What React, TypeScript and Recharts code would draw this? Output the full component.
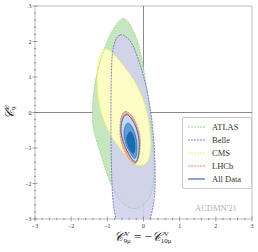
import React from "react";
import {
    ScatterChart,
    Scatter,
    XAxis,
    YAxis,
    ReferenceLine,
    ReferenceArea,
    Legend,
} from "recharts";

type Pt = { x: number; y: number };

// contour boundary points (C9 = -C10, C9U)
const atlas: Pt[] = [
    { x: -0.56, y: 2.65 }, { x: -0.29, y: 2.32 }, { x: -0.1, y: 1.76 },
    { x: 0.04, y: 1.0 }, { x: 0.16, y: 0.16 }, { x: 0.25, y: -0.78 },
    { x: 0.29, y: -1.72 }, { x: 0.17, y: -2.38 }, { x: -0.19, y: -2.7 },
    { x: -0.56, y: -2.56 }, { x: -0.88, y: -2.05 }, { x: -1.16, y: -1.25 },
    { x: -1.37, y: -0.5 }, { x: -1.41, y: 0.07 }, { x: -1.34, y: 0.82 },
    { x: -1.16, y: 1.57 }, { x: -0.88, y: 2.27 },
];
const belle: Pt[] = [
    { x: -0.65, y: 2.18 }, { x: -0.5, y: 2.14 }, { x: -0.3, y: 1.9 },
    { x: -0.05, y: 1.2 }, { x: 0.15, y: 0.35 }, { x: 0.27, y: -0.6 },
    { x: 0.32, y: -1.55 }, { x: 0.3, y: -2.4 }, { x: 0.16, y: -3.05 },
    { x: -0.1, y: -3.45 }, { x: -0.5, y: -3.45 }, { x: -0.74, y: -3.05 },
    { x: -0.85, y: -2.4 }, { x: -0.89, y: -1.3 }, { x: -0.9, y: -0.1 },
    { x: -0.89, y: 1.0 }, { x: -0.86, y: 1.65 }, { x: -0.78, y: 2.02 },
];
const cms: Pt[] = [
    { x: -1.1, y: 1.77 }, { x: -0.9, y: 1.71 }, { x: -0.56, y: 1.33 },
    { x: -0.19, y: 0.77 }, { x: 0.08, y: 0.07 }, { x: 0.19, y: -0.69 },
    { x: 0.16, y: -1.25 }, { x: -0.01, y: -1.48 }, { x: -0.29, y: -1.42 },
    { x: -0.65, y: -1.01 }, { x: -0.98, y: -0.5 }, { x: -1.21, y: 0.16 },
    { x: -1.28, y: 0.82 }, { x: -1.25, y: 1.43 },
];
const lhcb: Pt[] = [
    { x: -0.51, y: 0.03 }, { x: -0.4, y: -0.02 }, { x: -0.28, y: -0.15 },
    { x: -0.15, y: -0.45 }, { x: -0.09, y: -0.8 }, { x: -0.12, y: -1.2 },
    { x: -0.2, y: -1.42 }, { x: -0.32, y: -1.4 }, { x: -0.5, y: -1.15 },
    { x: -0.63, y: -0.75 }, { x: -0.65, y: -0.35 }, { x: -0.6, y: -0.08 },
];
const all3: Pt[] = [
    { x: -0.48, y: -0.06 }, { x: -0.36, y: -0.14 }, { x: -0.22, y: -0.38 },
    { x: -0.13, y: -0.72 }, { x: -0.12, y: -1.05 }, { x: -0.17, y: -1.33 },
    { x: -0.25, y: -1.39 }, { x: -0.38, y: -1.22 }, { x: -0.53, y: -0.9 },
    { x: -0.62, y: -0.55 }, { x: -0.59, y: -0.22 },
];
const all2: Pt[] = [
    { x: -0.42, y: -0.3 }, { x: -0.32, y: -0.4 }, { x: -0.22, y: -0.65 },
    { x: -0.18, y: -0.95 }, { x: -0.2, y: -1.22 }, { x: -0.26, y: -1.29 },
    { x: -0.36, y: -1.15 }, { x: -0.48, y: -0.9 }, { x: -0.54, y: -0.62 },
    { x: -0.5, y: -0.38 },
];
const all1: Pt[] = [
    { x: -0.37, y: -0.54 }, { x: -0.29, y: -0.64 }, { x: -0.24, y: -0.85 },
    { x: -0.24, y: -1.06 }, { x: -0.28, y: -1.15 }, { x: -0.36, y: -1.07 },
    { x: -0.44, y: -0.88 }, { x: -0.46, y: -0.68 },
];

const majorTicks = [-3, -2, -1, 0, 1, 2, 3];
const allTicks = [
    -3, -2.8, -2.6, -2.4, -2.2, -2, -1.8, -1.6, -1.4, -1.2, -1, -0.8, -0.6, -0.4, -0.2,
    0, 0.2, 0.4, 0.6, 0.8, 1, 1.2, 1.4, 1.6, 1.8, 2, 2.2, 2.4, 2.6, 2.8, 3,
];

const legendItems = [
    { name: "ATLAS", color: "#8fd48a", dash: "2 1" },
    { name: "Belle", color: "#6f63c0", dash: "2 1" },
    { name: "CMS", color: "#f2f23a", dash: "2 1" },
    { name: "LHCb", color: "#f07a5e", dash: "2 1" },
    { name: "All Data", color: "#3d6fb6", dash: "" },
];

const FONT = '"Liberation Serif", "DejaVu Serif", serif';

// closed catmull-rom curve for smooth contours
const closedSmooth = (context: any) => {
    let pts: [number, number][] = [];
    return {
        areaStart() {},
        areaEnd() {},
        lineStart() {
            pts = [];
        },
        point(x: number, y: number) {
            pts.push([x, y]);
        },
        lineEnd() {
            const n = pts.length;
            if (!n) return;
            context.moveTo(pts[0][0], pts[0][1]);
            for (let i = 0; i < n; i++) {
                const p0 = pts[(i - 1 + n) % n];
                const p1 = pts[i];
                const p2 = pts[(i + 1) % n];
                const p3 = pts[(i + 2) % n];
                context.bezierCurveTo(
                    p1[0] + (p2[0] - p0[0]) / 6,
                    p1[1] + (p2[1] - p0[1]) / 6,
                    p2[0] - (p3[0] - p1[0]) / 6,
                    p2[1] - (p3[1] - p1[1]) / 6,
                    p2[0],
                    p2[1]
                );
            }
            context.closePath();
        },
    };
};

const noDot = () => <g />;

const fmt = (v: number) => (v < 0 ? `\u2212${Math.abs(v)}` : `${v}`);

const XTick = ({ x, y, payload }: any) => {
    const major = majorTicks.includes(payload.value);
    const h = major ? 2.5 : 1.2;
    return (
        <g>
            <line x1={x} x2={x} y1={y - h} y2={y + h} stroke="#666" strokeWidth={0.6} />
            {major && (
                <text x={x} y={y + 8.5} textAnchor="middle" fontSize={6} fill="#333" fontFamily={FONT}>
                    {fmt(payload.value)}
                </text>
            )}
        </g>
    );
};

const YTick = ({ x, y, payload }: any) => {
    const major = majorTicks.includes(payload.value);
    const h = major ? 2.5 : 1.2;
    return (
        <g>
            <line x1={x - h} x2={x + h} y1={y} y2={y} stroke="#666" strokeWidth={0.6} />
            {major && (
                <text x={x - 3.5} y={y + 2} textAnchor="end" fontSize={6} fill="#333" fontFamily={FONT}>
                    {fmt(payload.value)}
                </text>
            )}
        </g>
    );
};

const LegendBox = () => (
    <div
        style={{
            border: "1px solid #c8c8c8",
            borderRadius: 2,
            background: "#fff",
            padding: "2px 0 2px 5px",
            fontFamily: FONT,
            fontSize: 8.5,
            fontWeight: 400,
            color: "#333",
            width: 70,
            boxSizing: "border-box",
        }}
    >
        {legendItems.map((it) => (
            <div key={it.name} style={{ display: "flex", alignItems: "center", height: 13.2 }}>
                <svg width={17} height={4} style={{ marginRight: 7 }}>
                    <line
                        x1={0}
                        x2={17}
                        y1={2}
                        y2={2}
                        stroke={it.color}
                        strokeWidth={it.dash ? 0.9 : 1.2}
                        strokeDasharray={it.dash || undefined}
                    />
                </svg>
                <span style={{ color: "#333" }}>{it.name}</span>
            </div>
        ))}
    </div>
);

const SubSup = ({ sup, sub }: { sup: string; sub: string }) => (
    <span
        style={{
            display: "inline-flex",
            flexDirection: "column",
            fontSize: 7,
            lineHeight: "7px",
            verticalAlign: "middle",
            fontStyle: "normal",
        }}
    >
        <span>{sup}</span>
        <span>{sub}</span>
    </span>
);

export default function App() {
    return (
        <div style={{ position: "absolute", left: 0, top: 0, width: 258, height: 252, background: "#fff" }}>
            <ScatterChart width={258} height={252} margin={{ top: 6, right: 6, left: 0, bottom: 0 }}>
                <XAxis
                    type="number"
                    dataKey="x"
                    domain={[-3, 3]}
                    allowDataOverflow
                    ticks={allTicks}
                    interval={0}
                    tick={<XTick />}
                    tickSize={0}
                    tickMargin={0}
                    tickLine={false}
                    axisLine={false}
                    height={33}
                />
                <YAxis
                    type="number"
                    dataKey="y"
                    domain={[-3, 3]}
                    allowDataOverflow
                    ticks={allTicks}
                    interval={0}
                    tick={<YTick />}
                    tickSize={0}
                    tickMargin={0}
                    tickLine={false}
                    axisLine={false}
                    width={35}
                />
                <Scatter data={atlas} shape={noDot} isAnimationActive={false} line={{ fill: "#c6e6c0", stroke: "none" }} lineJointType={closedSmooth as any} />
                <Scatter data={belle} shape={noDot} isAnimationActive={false} line={{ fill: "#d2d2ec", fillOpacity: 0.9, stroke: "none" }} lineJointType={closedSmooth as any} />
                <Scatter data={cms} shape={noDot} isAnimationActive={false} line={{ fill: "#ffffc2", fillOpacity: 0.92, stroke: "none" }} lineJointType={closedSmooth as any} />
                <Scatter data={lhcb} shape={noDot} isAnimationActive={false} line={{ fill: "#f4a994", stroke: "none" }} lineJointType={closedSmooth as any} />
                <Scatter data={atlas} shape={noDot} isAnimationActive={false} line={{ fill: "none", stroke: "#8fd48a", strokeWidth: 0.8, strokeDasharray: "2 1" }} lineJointType={closedSmooth as any} />
                <Scatter data={belle} shape={noDot} isAnimationActive={false} line={{ fill: "none", stroke: "#6f63c0", strokeWidth: 0.8, strokeDasharray: "2 1" }} lineJointType={closedSmooth as any} />
                <Scatter data={cms} shape={noDot} isAnimationActive={false} line={{ fill: "none", stroke: "#f2f23a", strokeWidth: 0.8, strokeDasharray: "2 1" }} lineJointType={closedSmooth as any} />
                <Scatter data={lhcb} shape={noDot} isAnimationActive={false} line={{ fill: "none", stroke: "#f07a5e", strokeWidth: 0.8, strokeDasharray: "2 1" }} lineJointType={closedSmooth as any} />
                <Scatter data={all3} shape={noDot} isAnimationActive={false} line={{ fill: "#c2daf1", stroke: "#23508f", strokeWidth: 0.8 }} lineJointType={closedSmooth as any} />
                <Scatter data={all2} shape={noDot} isAnimationActive={false} line={{ fill: "#5e9fd8", stroke: "#23508f", strokeWidth: 0.6 }} lineJointType={closedSmooth as any} />
                <Scatter data={all1} shape={noDot} isAnimationActive={false} line={{ fill: "#1b6bb5", stroke: "#1b4f8f", strokeWidth: 0.5 }} lineJointType={closedSmooth as any} />
                <ReferenceLine x={0} stroke="#8a8a8a" strokeWidth={1} />
                <ReferenceLine y={0} stroke="#8a8a8a" strokeWidth={1} />
                <ReferenceArea x1={-3} x2={3} y1={-3} y2={3} fill="none" stroke="#bdbdbd" strokeWidth={1} />
                <Legend
                    layout="vertical"
                    align="center"
                    verticalAlign="middle"
                    content={<LegendBox />}
                    wrapperStyle={{ left: 182, top: 117, width: 70, height: 72 }}
                />
            </ScatterChart>
            <div
                style={{
                    position: "absolute",
                    left: 195,
                    top: 203,
                    fontFamily: FONT,
                    fontSize: 8.5,
                    color: "#b4b4b4",
                    whiteSpace: "nowrap",
                }}
            >
                ACDMN'21
            </div>
            <div
                style={{
                    position: "absolute",
                    left: 0,
                    width: 286,
                    top: 229,
                    textAlign: "center",
                    fontFamily: FONT,
                    fontSize: 13,
                    color: "#222",
                    whiteSpace: "nowrap",
                }}
            >
                <i>𝒞</i>
                <SubSup sup="V" sub="9μ" /> = −<i>𝒞</i>
                <SubSup sup="V" sub="10μ" />
            </div>
            <div
                style={{
                    position: "absolute",
                    left: 10,
                    top: 112,
                    transform: "translate(-50%, -50%) rotate(-90deg)",
                    fontFamily: FONT,
                    fontSize: 13,
                    color: "#222",
                    whiteSpace: "nowrap",
                }}
            >
                <i>𝒞</i>
                <SubSup sup="U" sub="9" />
            </div>
        </div>
    );
}
